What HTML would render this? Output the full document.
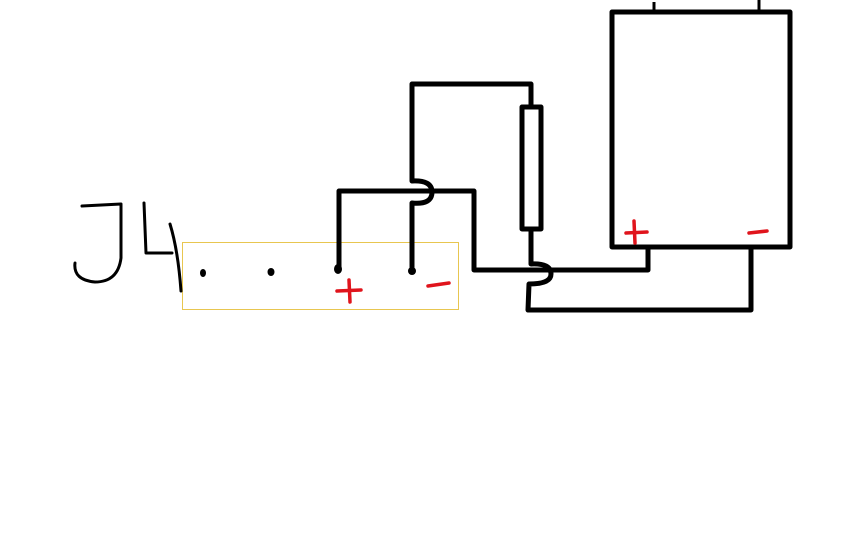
<!DOCTYPE html>
<html><head><style>body{margin:0;background:#fff}svg{display:block}</style></head><body>
<svg width="864" height="540" viewBox="0 0 864 540" xmlns="http://www.w3.org/2000/svg">
<rect width="864" height="540" fill="#fff"/>
<rect x="182.5" y="242.5" width="276" height="67" fill="none" stroke="#e8c650" stroke-width="1"/>
<g fill="none" stroke="#000" stroke-width="3" stroke-linecap="round" stroke-linejoin="round">
<path d="M82 206 L121 204 L121 258 Q118 282 95 282 Q73 280 75 263"/>
<path d="M144 203 L146 253 L172 253"/>
<path d="M170 224 Q178 250 181 291"/>
</g>
<g fill="none" stroke="#000" stroke-width="5" stroke-linejoin="round">
<rect x="612" y="12" width="178" height="235"/>
<line x1="654" y1="2" x2="654" y2="11" stroke-width="3"/>
<line x1="759" y1="0" x2="759" y2="11" stroke-width="3"/>
<rect x="522" y="107" width="19" height="122"/>
<path d="M412 268 L412 203 Q432 205 432 192 Q432 180 412 181 L412 84 L531 84 L531 107"/>
<path d="M339 268 L339 191 L474 191 L474 270 L648 270 L648 248"/>
<path d="M531 230 L531 264 Q551 263 551 274 Q551 284 529 284 L528 310 L751 310 L751 248"/>
</g>
<g fill="#000">
<ellipse cx="203" cy="273" rx="3" ry="4"/>
<ellipse cx="271" cy="272" rx="3.5" ry="4"/>
<ellipse cx="338" cy="269" rx="4" ry="5"/>
<ellipse cx="412" cy="271" rx="4" ry="4"/>
</g>
<g stroke="#e0141c" stroke-width="3.5" stroke-linecap="round">
<line x1="337" y1="291" x2="361" y2="290"/><line x1="349" y1="280" x2="350" y2="302"/>
<line x1="428" y1="286" x2="449" y2="283"/>
<line x1="626" y1="233" x2="647" y2="232"/><line x1="634" y1="221" x2="635" y2="243"/>
<line x1="749" y1="233" x2="767" y2="231"/>
</g>
</svg>
</body></html>
